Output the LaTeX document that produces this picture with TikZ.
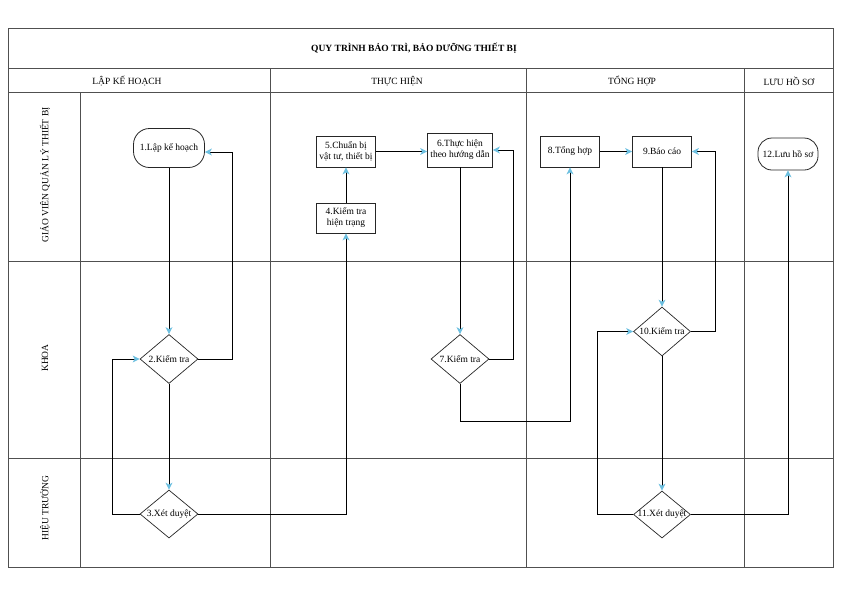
\documentclass[tikz,border=0pt]{standalone}
\usepackage{fontspec}
\setmainfont{Liberation Serif}
\usetikzlibrary{arrows.meta,shapes.geometric}
\definecolor{tipblue}{HTML}{6CBFE0}
\definecolor{framegray}{HTML}{505050}
\newcommand{\fs}{\fontsize{9.5}{11}\selectfont}
\tikzset{
  frame/.style={draw=framegray, line width=0.9pt},
  proc/.style={draw=black!85, line width=0.8pt, minimum width=59pt, minimum height=31pt, inner sep=1pt, align=center, font=\fs},
  term/.style={proc, rounded corners=14pt},
  dec/.style={diamond, draw=black!85, line width=0.7pt, inner sep=0pt, minimum width=58pt, minimum height=49pt, font=\fs},
  conn/.style={draw=black, line width=0.9pt, -{Stealth[length=7pt,width=7pt,inset=2pt,color=tipblue]}},
  lbl/.style={font=\fs, inner sep=0pt},
  lanelbl/.style={lbl, rotate=90}
}
\begin{document}
\begin{tikzpicture}[x=1pt,y=-1pt]
\useasboundingbox (0,0) rectangle (842,595);
% frame
\draw[frame] (8,28) rectangle (833,567);
\draw[frame] (8,68) -- (833,68);
\draw[frame] (8,92) -- (833,92);
\draw[frame] (8,261) -- (833,261);
\draw[frame] (8,458) -- (833,458);
\draw[frame] (80,92) -- (80,567);
\draw[frame] (270,68) -- (270,567);
\draw[frame] (526,68) -- (526,567);
\draw[frame] (744,68) -- (744,567);
% titles
\node[lbl, font=\fontsize{9.5}{11}\selectfont\bfseries] (title) at (414,48) {QUY TRÌNH BẢO TRÌ, BẢO DƯỠNG THIẾT BỊ};
\node[lbl] (h1) at (127,81) {LẬP KẾ HOẠCH};
\node[lbl] (h2) at (397,81) {THỰC HIỆN};
\node[lbl] (h3) at (632,81) {TỔNG HỢP};
\node[lbl] (h4) at (789,81) {LƯU HỒ SƠ};
\node[lanelbl] (l1) at (45,175) {GIÁO VIÊN QUẢN LÝ THIẾT BỊ};
\node[lanelbl] (l2) at (45,358) {KHOA};
\node[lanelbl] (l3) at (45,508) {HIỆU TRƯỞNG};
% nodes
\node[term, minimum width=71pt, minimum height=39pt, rounded corners=16pt] (n1) at (169,148) {1.Lập kế hoạch};
\node[dec] (d2) at (169,359) {\makebox[0pt]{2.Kiểm tra}};
\node[dec, minimum height=48pt] (d3) at (169,514) {\makebox[0pt]{3.Xét duyệt}};
\node[proc, minimum height=30pt] (n4) at (346,218) {4.Kiểm tra\\hiện trạng};
\node[proc] (n5) at (346,151.5) {5.Chuẩn bị\\vật tư, thiết bị};
\node[proc, minimum width=65pt, minimum height=34pt] (n6) at (460,150) {6.Thực hiện\\theo hướng dẫn};
\node[dec] (d7) at (460,359) {\makebox[0pt]{7.Kiểm tra}};
\node[proc] (n8) at (570,151.5) {8.Tổng hợp};
\node[proc] (n9) at (662,151.5) {9.Báo cáo};
\node[dec, minimum width=57pt] (d10) at (662,331.5) {\makebox[0pt]{10.Kiểm tra}};
\node[dec, minimum width=57pt, minimum height=47pt] (d11) at (662,514.5) {\makebox[0pt]{11.Xét duyệt}};
\node[term, minimum width=60pt, minimum height=32pt] (n12) at (788,154) {12.Lưu hồ sơ};
% connectors
\draw[conn] (n1.south) -- (d2.north);
\draw[conn] (d2.south) -- (d3.north);
\draw[conn] (d2.east) -- ++(34,0) |- ([yshift=-4pt]n1.east);
\draw[conn] (d3.west) -- ++(-27,0) |- (d2.west);
\draw[conn] (d3.east) -| (n4.south);
\draw[conn] (n4.north) -- (n5.south);
\draw[conn] (n5.east) -- (n5.east -| n6.west);
\draw[conn] (n6.south) -- (d7.north);
\draw[conn] (d7.east) -- ++(24,0) |- (n6.east);
\draw[conn] (d7.south) -- ++(0,38) -| (n8.south);
\draw[conn] (n8.east) -- (n9.west);
\draw[conn] (n9.south) -- (d10.north);
\draw[conn] (d10.east) -- ++(25,0) |- (n9.east);
\draw[conn] (d10.south) -- (d11.north);
\draw[conn] (d11.west) -- ++(-36,0) |- (d10.west);
\draw[conn] (d11.east) -| (n12.south);
\end{tikzpicture}
\end{document}
